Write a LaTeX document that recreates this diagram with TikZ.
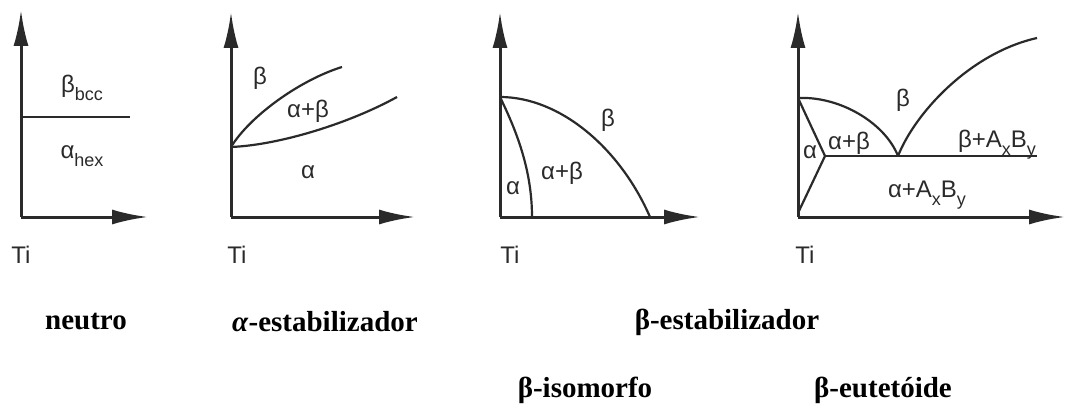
\documentclass[tikz,border=0pt]{standalone}
\usepackage{fontspec}
\setmainfont{Liberation Serif}
\setsansfont{Liberation Sans}
\usepackage{tikz}
\usetikzlibrary{arrows.meta}
\usepackage{xcolor}
\definecolor{ink}{HTML}{2A2A2A}
\newcommand{\fasefont}{\sffamily\fontsize{24}{28}\selectfont}
\newcommand{\titfont}{\rmfamily\bfseries\fontsize{29}{34}\selectfont}
\newcommand{\bajo}[1]{\raisebox{-0.32em}{\fontsize{18}{20}\selectfont #1}}

\begin{document}
\begin{tikzpicture}[x=1pt,y=1pt,
  eje/.style={ink,line width=3pt,-{Latex[length=36pt,width=15pt]}},
  linea/.style={ink,line width=2.2pt},
  fase/.style={font=\fasefont,text=ink,inner sep=1pt},
  titulo/.style={font=\titfont,text=black,inner sep=1pt}]
  \useasboundingbox (0,0) rectangle (1067,408);

  % --- Neutro ---
  \coordinate (O1) at (21,191);
  \coordinate (Y1) at (21,398);
  \coordinate (X1) at (148,191);
  \coordinate (L1a) at (21,291);
  \coordinate (L1b) at (130,291);
  \draw[eje] (O1) -- (Y1);
  \draw[eje] (O1) -- (X1);
  \draw[linea] (L1a) -- (L1b);
  \node[fase] (bcc1) at (82,320) {β\bajo{bcc}};
  \node[fase] (hex1) at (82,252) {α\bajo{hex}};
  \node[fase] (ti1) at (21,153) {Ti};

  % --- alfa-estabilizador ---
  \coordinate (O2) at (231,191);
  \coordinate (Y2) at (231,396);
  \coordinate (X2) at (415,191);
  \coordinate (P2) at (231,261);
  \coordinate (S2) at (342,341);
  \coordinate (T2) at (397,311);
  \draw[eje] (O2) -- (Y2);
  \draw[eje] (O2) -- (X2);
  \draw[linea] (P2) .. controls (250,292) and (300,328) .. (S2);
  \draw[linea] (P2) .. controls (280,263) and (350,285) .. (T2);
  \node[fase] (b2) at (260,330) {β};
  \node[fase] (ab2) at (308,297) {α+β};
  \node[fase] (a2) at (308,236) {α};
  \node[fase] (ti2) at (237,153) {Ti};

  % --- beta-isomorfo ---
  \coordinate (O3) at (500,191);
  \coordinate (Y3) at (500,396);
  \coordinate (X3) at (700,191);
  \coordinate (P3) at (500,311);
  \coordinate (S3) at (650,191);
  \coordinate (T3) at (532,191);
  \draw[eje] (O3) -- (Y3);
  \draw[eje] (O3) -- (X3);
  \draw[linea] (P3) .. controls (560,311) and (620,260) .. (S3);
  \draw[linea] (P3) .. controls (515,280) and (532,240) .. (T3);
  \node[fase] (b3) at (608,288) {β};
  \node[fase] (ab3) at (562,235) {α+β};
  \node[fase] (a3) at (513,220) {α};
  \node[fase] (ti3) at (510,153) {Ti};

  % --- beta-eutetoide ---
  \coordinate (O4) at (798,191);
  \coordinate (Y4) at (798,396);
  \coordinate (X4) at (1065,191);
  \coordinate (P4) at (798,310);
  \coordinate (E4) at (898,252);
  \coordinate (A4) at (825,252);
  \coordinate (R4) at (1037,370);
  \coordinate (F4) at (1037,252);
  \coordinate (Q4) at (798,195);
  \draw[eje] (O4) -- (Y4);
  \draw[eje] (O4) -- (X4);
  \draw[linea] (P4) .. controls (840,312) and (885,285) .. (E4);
  \draw[linea] (E4) .. controls (915,295) and (970,355) .. (R4);
  \draw[linea] (P4) -- (A4) -- (Q4);
  \draw[linea] (A4) -- (F4);
  \node[fase] (b4) at (903,308) {β};
  \node[fase] (bab4) at (997,263) {β+A\bajo{x}B\bajo{y}};
  \node[fase] (ab4) at (849,265) {α+β};
  \node[fase] (a4) at (810,256) {α};
  \node[fase] (aab4) at (927,213) {α+A\bajo{x}B\bajo{y}};
  \node[fase] (ti4) at (805,153) {Ti};

  % --- Titulos ---
  \node[titulo] (neutro) at (86,86) {neutro};
  \node[titulo] (alfaest) at (325,86) {\textit{α}-estabilizador};
  \node[titulo] (betaest) at (727,86) {β-estabilizador};
  \node[titulo] (betaiso) at (585,18) {β-isomorfo};
  \node[titulo] (betaeut) at (883,18) {β-eutetóide};
\end{tikzpicture}
\end{document}
